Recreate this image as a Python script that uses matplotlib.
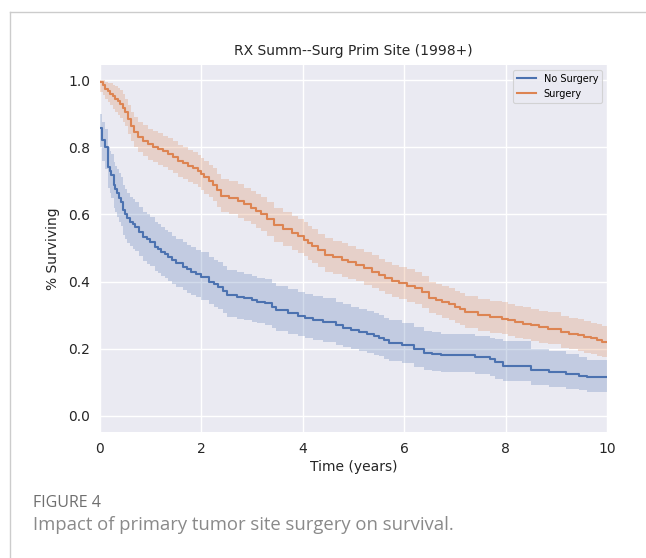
import matplotlib
matplotlib.use("Agg")
import matplotlib.pyplot as plt
from matplotlib.lines import Line2D

# ---- data ----
# No Surgery: step times, survival, upper / lower confidence bounds
blue_t = [0.00, 0.03, 0.10, 0.16, 0.19, 0.22, 0.27, 0.30, 0.33, 0.37,
          0.41, 0.46, 0.50, 0.53, 0.60, 0.65, 0.69, 0.76, 0.85, 0.92,
          0.98, 1.08, 1.15, 1.21, 1.28, 1.34, 1.42, 1.50, 1.64, 1.72,
          1.80, 1.90, 2.00, 2.15, 2.24, 2.33, 2.42, 2.50, 2.70, 2.85,
          3.00, 3.10, 3.25, 3.40, 3.48, 3.70, 3.90, 4.05, 4.20, 4.40,
          4.65, 4.80, 4.95, 5.10, 5.26, 5.40, 5.50, 5.60, 5.70, 5.96,
          6.20, 6.40, 6.55, 6.73, 7.40, 7.70, 7.80, 7.95, 8.50, 8.85,
          9.20, 9.45, 9.60]
blue_s = [0.856, 0.821, 0.800, 0.742, 0.730, 0.717, 0.687, 0.675, 0.663, 0.650,
          0.638, 0.613, 0.600, 0.588, 0.578, 0.570, 0.563, 0.548, 0.533, 0.526,
          0.519, 0.504, 0.497, 0.489, 0.482, 0.474, 0.464, 0.454, 0.444, 0.437,
          0.430, 0.422, 0.415, 0.400, 0.392, 0.385, 0.372, 0.360, 0.355, 0.350,
          0.345, 0.340, 0.335, 0.325, 0.315, 0.305, 0.298, 0.292, 0.285, 0.280,
          0.270, 0.262, 0.255, 0.250, 0.243, 0.238, 0.232, 0.225, 0.218, 0.210,
          0.198, 0.188, 0.184, 0.180, 0.175, 0.168, 0.160, 0.150, 0.138, 0.132,
          0.125, 0.120, 0.115]
blue_hi = [0.900, 0.875, 0.855, 0.800, 0.790, 0.780, 0.755, 0.745, 0.735, 0.723,
           0.712, 0.688, 0.675, 0.663, 0.653, 0.645, 0.638, 0.622, 0.607, 0.600,
           0.592, 0.577, 0.570, 0.562, 0.555, 0.547, 0.537, 0.527, 0.517, 0.510,
           0.502, 0.495, 0.488, 0.473, 0.465, 0.458, 0.445, 0.433, 0.428, 0.423,
           0.418, 0.412, 0.407, 0.397, 0.387, 0.377, 0.370, 0.363, 0.357, 0.350,
           0.340, 0.332, 0.325, 0.319, 0.312, 0.306, 0.300, 0.292, 0.285, 0.276,
           0.264, 0.253, 0.249, 0.245, 0.238, 0.232, 0.228, 0.222, 0.200, 0.193,
           0.183, 0.175, 0.165]
blue_lo = [0.800, 0.760, 0.735, 0.680, 0.665, 0.650, 0.620, 0.606, 0.592, 0.578,
           0.565, 0.540, 0.527, 0.515, 0.505, 0.497, 0.490, 0.475, 0.460, 0.453,
           0.447, 0.432, 0.425, 0.418, 0.410, 0.403, 0.393, 0.384, 0.375, 0.367,
           0.360, 0.353, 0.346, 0.332, 0.325, 0.318, 0.306, 0.295, 0.290, 0.285,
           0.280, 0.276, 0.271, 0.262, 0.253, 0.243, 0.237, 0.231, 0.225, 0.221,
           0.212, 0.205, 0.198, 0.193, 0.187, 0.182, 0.177, 0.170, 0.164, 0.157,
           0.146, 0.137, 0.133, 0.130, 0.125, 0.118, 0.110, 0.103, 0.092, 0.087,
           0.081, 0.077, 0.072]

# Surgery
orange_t = [0.00, 0.05, 0.09, 0.15, 0.20, 0.25, 0.30, 0.35, 0.40, 0.45,
            0.50, 0.56, 0.62, 0.68, 0.75, 0.85, 0.95, 1.05, 1.14, 1.24,
            1.34, 1.44, 1.54, 1.63, 1.73, 1.83, 1.93, 2.00, 2.06, 2.15,
            2.23, 2.31, 2.39, 2.55, 2.72, 2.85, 2.98, 3.08, 3.18, 3.30,
            3.44, 3.60, 3.78, 3.90, 4.02, 4.10, 4.18, 4.30, 4.44, 4.60,
            4.77, 4.90, 5.04, 5.20, 5.36, 5.50, 5.63, 5.76, 5.89, 6.05,
            6.22, 6.35, 6.48, 6.62, 6.75, 6.88, 7.00, 7.10, 7.20, 7.46,
            7.70, 7.92, 8.05, 8.18, 8.35, 8.50, 8.65, 8.83, 9.10, 9.25,
            9.43, 9.55, 9.69, 9.80, 9.90]
orange_s = [0.993, 0.985, 0.975, 0.968, 0.960, 0.952, 0.945, 0.938, 0.930, 0.918,
            0.905, 0.885, 0.862, 0.845, 0.830, 0.820, 0.810, 0.802, 0.795, 0.788,
            0.780, 0.770, 0.760, 0.752, 0.745, 0.738, 0.730, 0.720, 0.710, 0.699,
            0.688, 0.672, 0.655, 0.650, 0.640, 0.630, 0.620, 0.610, 0.600, 0.585,
            0.568, 0.557, 0.545, 0.535, 0.525, 0.515, 0.505, 0.493, 0.480, 0.472,
            0.465, 0.458, 0.450, 0.440, 0.430, 0.420, 0.410, 0.402, 0.395, 0.388,
            0.380, 0.370, 0.352, 0.346, 0.340, 0.332, 0.325, 0.318, 0.310, 0.300,
            0.295, 0.290, 0.285, 0.280, 0.275, 0.270, 0.265, 0.260, 0.250, 0.245,
            0.240, 0.235, 0.231, 0.226, 0.220]
orange_hi = [1.000, 1.000, 0.995, 0.992, 0.990, 0.986, 0.982, 0.977, 0.972, 0.960,
             0.945, 0.925, 0.905, 0.890, 0.875, 0.865, 0.855, 0.848, 0.842, 0.835,
             0.828, 0.818, 0.808, 0.800, 0.793, 0.786, 0.778, 0.768, 0.758, 0.748,
             0.737, 0.721, 0.705, 0.700, 0.690, 0.680, 0.670, 0.661, 0.651, 0.636,
             0.619, 0.608, 0.596, 0.586, 0.576, 0.566, 0.556, 0.543, 0.530, 0.522,
             0.515, 0.507, 0.498, 0.488, 0.478, 0.468, 0.458, 0.450, 0.443, 0.436,
             0.428, 0.418, 0.400, 0.394, 0.388, 0.380, 0.373, 0.366, 0.358, 0.348,
             0.343, 0.338, 0.333, 0.328, 0.323, 0.318, 0.313, 0.308, 0.298, 0.293,
             0.288, 0.283, 0.278, 0.273, 0.268]
orange_lo = [0.965, 0.955, 0.945, 0.935, 0.925, 0.915, 0.905, 0.897, 0.888, 0.875,
             0.862, 0.840, 0.818, 0.800, 0.785, 0.774, 0.763, 0.755, 0.748, 0.740,
             0.732, 0.722, 0.712, 0.704, 0.697, 0.690, 0.682, 0.672, 0.662, 0.651,
             0.640, 0.623, 0.606, 0.600, 0.590, 0.580, 0.570, 0.560, 0.550, 0.535,
             0.518, 0.507, 0.495, 0.485, 0.475, 0.465, 0.455, 0.443, 0.430, 0.422,
             0.415, 0.408, 0.401, 0.391, 0.382, 0.372, 0.362, 0.354, 0.347, 0.340,
             0.332, 0.322, 0.305, 0.299, 0.293, 0.285, 0.278, 0.270, 0.263, 0.253,
             0.248, 0.243, 0.238, 0.233, 0.228, 0.223, 0.218, 0.213, 0.203, 0.198,
             0.193, 0.188, 0.184, 0.179, 0.174]

series_labels = ["No Surgery", "Surgery"]
x_ticks = [0, 2, 4, 6, 8, 10]
y_ticks = [0.0, 0.2, 0.4, 0.6, 0.8, 1.0]
T_END = 10.0

BLUE = "#4C72B0"
ORANGE = "#DD8452"

fig = plt.figure(figsize=(6.46, 5.58), dpi=100)
fig.patch.set_facecolor("white")

# page frame lines (top and left)
fig.add_artist(Line2D([10/646, 1.0], [1 - 12/558, 1 - 12/558], transform=fig.transFigure,
                      color="#cccccc", lw=1.0))
fig.add_artist(Line2D([10/646, 10/646], [0.0, 1 - 12/558], transform=fig.transFigure,
                      color="#cccccc", lw=1.0))

ax = fig.add_axes([100/646, 1 - 432/558, 507/646, 367/558])
ax.set_facecolor("#EAEAF2")
for sp in ax.spines.values():
    sp.set_visible(False)
ax.grid(True, color="white", lw=1.0)
ax.set_axisbelow(True)


def draw(t, s, lo, hi, color, label):
    t = list(t) + [T_END]
    s = list(s) + [s[-1]]
    lo = list(lo) + [lo[-1]]
    hi = list(hi) + [hi[-1]]
    ax.fill_between(t, lo, hi, step="post", color=color, alpha=0.25, lw=0)
    ax.plot(t, s, drawstyle="steps-post", color=color, lw=1.5, label=label)


draw(blue_t, blue_s, blue_lo, blue_hi, BLUE, series_labels[0])
draw(orange_t, orange_s, orange_lo, orange_hi, ORANGE, series_labels[1])

ax.set_xlim(0, 10)
ax.set_ylim(-0.048, 1.045)
ax.set_xticks(x_ticks)
ax.set_xticklabels([str(v) for v in x_ticks])
ax.set_yticks(y_ticks)
ax.set_yticklabels([f"{v:.1f}" for v in y_ticks])
ax.tick_params(length=0, labelsize=10, colors="#262626", pad=7)
ax.set_title("RX Summ--Surg Prim Site (1998+)", fontsize=10, color="#262626", pad=7)
ax.set_xlabel("Time (years)", fontsize=10, color="#262626", labelpad=3)
ax.set_ylabel("% Surviving", fontsize=10, color="#262626", labelpad=6)

leg = ax.legend(loc="upper right", fontsize=7, frameon=True, facecolor="#EAEAF2",
                edgecolor="#cccccc", handlelength=2.0, borderpad=0.4, labelspacing=0.5)
leg.get_frame().set_linewidth(0.8)

fig.text(33/646, 1 - 503/558, "FIGURE 4", fontsize=11.5, color="#6f6f6f",
         family="Open Sans", va="center", ha="left")
fig.text(33/646, 1 - 525/558, "Impact of primary tumor site surgery on survival.",
         fontsize=13.3, color="#8a8a8a", family="Open Sans", va="center", ha="left")

fig.savefig("out.png", dpi=100, facecolor="white")
